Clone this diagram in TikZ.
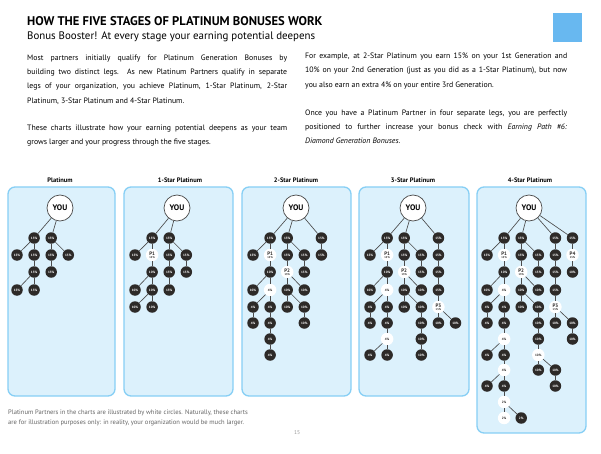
\documentclass[tikz,border=0pt]{standalone}
\usepackage{fontspec}
\setmainfont{PT Sans}
\setsansfont{PT Sans}
\definecolor{panelfill}{RGB}{220,241,252}
\definecolor{panelline}{RGB}{135,207,245}
\definecolor{dark}{RGB}{45,42,40}
\definecolor{edgec}{RGB}{75,75,75}
\definecolor{sq}{RGB}{104,184,240}
\definecolor{foot}{RGB}{100,100,100}
\newcommand\plab[2]{{\fontsize{5}{5}\selectfont P#1}\\#2}
\newcommand\pctnode[5]{%
  \pgfmathsetmacro\nx{\bx+17.1*#4}%
  \pgfmathsetmacro\ny{{208,238,255,272,290,307,323,339,355,370,386,402,418}[#3]}%
  \node[#1] (#2r#3c#4) at (\nx,\ny) {#5};}
\newcommand\tree[2]{\foreach \nR/\nC/\nS/\nL in {#2} {\pctnode{\nS}{#1}{\nR}{\nC}{\nL}}}
\newcommand\links[2]{\foreach \pa/\pb/\pc/\pd in {#2} {\draw[edge] (#1r\pa c\pb) -- (#1r\pc c\pd);}}
\newcommand\youlinks[2]{\foreach \pk in {#2} {\draw[edge] (#1you) -- (#1r1c\pk);}}
\begin{document}
\begin{tikzpicture}[x=1pt,y=-1pt,
  panel/.style={draw=panelline, fill=panelfill, line width=1.3pt, rounded corners=7pt},
  bk/.style={circle, fill=dark, text=white, inner sep=0pt, minimum size=11.5pt, font=\bfseries\fontsize{3.2}{3.5}\selectfont},
  wt/.style={circle, fill=white, text=dark, inner sep=0pt, minimum size=12.5pt, font=\bfseries\fontsize{3.2}{3.5}\selectfont},
  pp/.style={circle, fill=white, text=dark, inner sep=0pt, minimum size=12.5pt, align=center, font=\bfseries\fontsize{2.7}{3.4}\selectfont},
  you/.style={circle, draw=edgec, line width=0.7pt, fill=white, minimum size=26pt, inner sep=0pt, font=\bfseries\fontsize{8}{9}\selectfont},
  edge/.style={draw=edgec, line width=0.65pt},
  body/.style={anchor=base west, inner sep=0pt, font=\fontsize{7.8}{9}\selectfont},
  ptitle/.style={anchor=base, inner sep=0pt, font=\bfseries\fontsize{6.5}{7}\selectfont},
  foottext/.style={anchor=base west, inner sep=0pt, text=foot, font=\fontsize{6.55}{7}\selectfont},
]
\useasboundingbox[fill=white] (0,0) rectangle (601,454);

% header
\node[anchor=base west, inner sep=0pt, font=\bfseries\fontsize{12.6}{14}\selectfont] (head) at (27,26) {HOW THE FIVE STAGES OF PLATINUM BONUSES WORK};
\node[anchor=base west, inner sep=0pt, font=\fontsize{10.9}{12}\selectfont] (sub) at (27,40) {Bonus Booster! At every stage your earning potential deepens};
\node[fill=sq, minimum width=29pt, minimum height=29pt, inner sep=0pt, anchor=north west] (square) at (553,13) {};

% left column
\node[body] (L1) at (27,60.5) {\makebox[260pt][s]{Most partners initially qualify for Platinum Generation Bonuses by}};
\node[body] (L2) at (27,74.8) {\makebox[260pt][s]{building two distinct legs. As new Platinum Partners qualify in separate}};
\node[body] (L3) at (27,89) {\makebox[260pt][s]{legs of your organization, you achieve Platinum, 1-Star Platinum, 2-Star}};
\node[body] (L4) at (27,103.2) {Platinum, 3-Star Platinum and 4-Star Platinum.};
\node[body] (L5) at (27,130.5) {\makebox[260pt][s]{These charts illustrate how your earning potential deepens as your team}};
\node[body] (L6) at (27,144.8) {grows larger and your progress through the five stages.};

% right column
\node[body] (R1) at (305,58.7) {\makebox[262pt][s]{For example, at 2-Star Platinum you earn 15\% on your 1st Generation and}};
\node[body] (R2) at (305,72.9) {\makebox[262pt][s]{10\% on your 2nd Generation (just as you did as a 1-Star Platinum), but now}};
\node[body] (R3) at (305,87.1) {you also earn an extra 4\% on your entire 3rd Generation.};
\node[body] (R4) at (305,115.3) {\makebox[262pt][s]{Once you have a Platinum Partner in four separate legs, you are perfectly}};
\node[body] (R5) at (305,129.4) {\makebox[262pt][s]{positioned to further increase your bonus check with \textit{Earning Path \#6:}}};
\node[body] (R6) at (305,143.5) {\textit{Diamond Generation Bonuses}.};

% panels
\draw[panel] (8,187) rectangle (115,396);
\draw[panel] (124,187) rectangle (233,396);
\draw[panel] (242,187) rectangle (351,396);
\draw[panel] (359,187) rectangle (469,396);
\draw[panel] (477,187) rectangle (586,433);

\node[ptitle] (tA) at (60,182.5) {Platinum};
\node[ptitle] (tB) at (180,182.5) {1-Star Platinum};
\node[ptitle] (tC) at (296,182.5) {2-Star Platinum};
\node[ptitle] (tD) at (413,182.5) {3-Star Platinum};
\node[ptitle] (tE) at (530,182.5) {4-Star Platinum};

% Panel A
\def\bx{17}
\node[you] (Ayou) at (60,208) {YOU};
\tree{A}{1/1/bk/15\%, 1/2/bk/15\%, 2/0/bk/15\%, 2/1/bk/15\%, 2/2/bk/15\%, 2/3/bk/15\%, 3/1/bk/15\%, 3/2/bk/15\%, 4/0/bk/15\%, 4/1/bk/15\%}
\youlinks{A}{1,2}
\links{A}{1/1/2/0, 1/1/2/1, 1/2/2/2, 1/2/2/3, 2/1/3/1, 2/2/3/2, 3/1/4/0, 3/1/4/1}

% Panel B
\def\bx{135}
\node[you] (Byou) at (177,208) {YOU};
\tree{B}{1/1/bk/15\%, 1/2/bk/15\%, 2/0/bk/15\%, 2/1/pp/\plab{1}{15\%}, 2/2/bk/15\%, 2/3/bk/15\%, 3/1/bk/10\%, 3/2/bk/15\%, 3/3/bk/15\%, 4/0/bk/10\%, 4/1/bk/10\%, 4/2/bk/15\%, 5/0/bk/10\%, 5/1/bk/10\%}
\youlinks{B}{1,2}
\links{B}{1/1/2/0, 1/1/2/1, 1/2/2/2, 1/2/2/3, 2/1/3/1, 2/2/3/2, 2/3/3/3, 3/1/4/0, 3/1/4/1, 3/2/4/2, 4/1/5/0, 4/1/5/1}

% Panel C
\def\bx{253}
\node[you] (Cyou) at (296,208) {YOU};
\tree{C}{1/1/bk/15\%, 1/2/bk/15\%, 1/4/bk/15\%,
 2/0/bk/15\%, 2/1/pp/\plab{1}{15\%}, 2/2/bk/15\%, 2/3/bk/15\%, 2/4/bk/15\%,
 3/1/bk/10\%, 3/2/pp/\plab{2}{15\%}, 3/3/bk/15\%,
 4/0/bk/10\%, 4/1/wt/4\%, 4/2/bk/10\%, 4/3/bk/10\%,
 5/0/bk/4\%, 5/1/bk/4\%, 5/2/bk/10\%, 5/3/bk/10\%,
 6/0/bk/4\%, 6/1/bk/4\%, 6/3/bk/10\%,
 7/1/bk/4\%, 8/1/bk/4\%}
\youlinks{C}{1,2,4}
\links{C}{1/1/2/0, 1/1/2/1, 1/2/2/2, 1/2/2/3, 1/4/2/4, 2/1/3/1, 2/2/3/2, 2/3/3/3, 3/1/4/0, 3/1/4/1, 3/2/4/2, 3/2/4/3, 4/1/5/0, 4/1/5/1, 4/2/5/2, 4/2/5/3, 5/0/6/0, 5/1/6/1, 5/3/6/3, 6/1/7/1, 7/1/8/1}

% Panel D
\def\bx{370}
\node[you] (Dyou) at (413,208) {YOU};
\tree{D}{1/1/bk/15\%, 1/2/bk/15\%, 1/4/bk/15\%,
 2/0/bk/15\%, 2/1/pp/\plab{1}{15\%}, 2/2/bk/15\%, 2/3/bk/15\%, 2/4/bk/15\%,
 3/1/bk/10\%, 3/2/pp/\plab{2}{15\%}, 3/3/bk/15\%, 3/4/bk/15\%,
 4/0/bk/10\%, 4/1/wt/4\%, 4/2/bk/10\%, 4/3/bk/10\%, 4/4/bk/15\%,
 5/0/bk/4\%, 5/1/bk/4\%, 5/2/bk/10\%, 5/3/bk/10\%, 5/4/pp/\plab{3}{15\%},
 6/0/bk/4\%, 6/1/bk/4\%, 6/3/bk/10\%, 6/4/bk/10\%, 6/5/bk/10\%,
 7/1/wt/4\%, 7/3/bk/10\%,
 8/0/bk/4\%, 8/1/bk/4\%, 8/3/bk/10\%}
\youlinks{D}{1,2,4}
\links{D}{1/1/2/0, 1/1/2/1, 1/2/2/2, 1/2/2/3, 1/4/2/4, 2/1/3/1, 2/2/3/2, 2/3/3/3, 2/4/3/4, 3/1/4/0, 3/1/4/1, 3/2/4/2, 3/2/4/3, 3/4/4/4, 4/1/5/0, 4/1/5/1, 4/2/5/2, 4/2/5/3, 4/4/5/4, 5/0/6/0, 5/1/6/1, 5/3/6/3, 5/4/6/4, 5/4/6/5, 6/1/7/1, 6/3/7/3, 7/1/8/0, 7/1/8/1, 7/3/8/3}

% Panel E
\def\bx{487}
\node[you] (Eyou) at (529,208) {YOU};
\tree{E}{1/1/bk/15\%, 1/2/bk/15\%, 1/4/bk/15\%, 1/5/bk/15\%,
 2/0/bk/15\%, 2/1/pp/\plab{1}{15\%}, 2/2/bk/15\%, 2/3/bk/15\%, 2/4/bk/15\%, 2/5/pp/\plab{4}{15\%},
 3/1/bk/10\%, 3/2/pp/\plab{2}{15\%}, 3/3/bk/15\%, 3/4/bk/15\%, 3/5/bk/10\%,
 4/0/bk/10\%, 4/1/wt/4\%, 4/2/bk/10\%, 4/3/bk/10\%, 4/4/bk/15\%,
 5/0/bk/4\%, 5/1/bk/4\%, 5/2/bk/10\%, 5/3/bk/10\%, 5/4/pp/\plab{3}{15\%},
 6/0/bk/4\%, 6/1/bk/4\%, 6/3/bk/10\%, 6/4/bk/10\%, 6/5/bk/10\%,
 7/1/wt/4\%, 7/3/bk/10\%, 7/5/bk/10\%,
 8/0/bk/4\%, 8/1/bk/4\%, 8/3/wt/10\%,
 9/1/wt/4\%, 9/3/bk/10\%, 9/4/bk/10\%,
 10/0/bk/4\%, 10/1/bk/4\%, 10/4/bk/10\%,
 11/1/wt/2\%, 12/1/wt/2\%, 12/2/bk/2\%}
\youlinks{E}{1,2,4,5}
\links{E}{1/1/2/0, 1/1/2/1, 1/2/2/2, 1/2/2/3, 1/4/2/4, 1/5/2/5, 2/1/3/1, 2/2/3/2, 2/3/3/3, 2/4/3/4, 2/5/3/5, 3/1/4/0, 3/1/4/1, 3/2/4/2, 3/2/4/3, 3/4/4/4, 4/1/5/0, 4/1/5/1, 4/2/5/2, 4/2/5/3, 4/4/5/4, 5/0/6/0, 5/1/6/1, 5/3/6/3, 5/4/6/4, 5/4/6/5, 6/1/7/1, 6/3/7/3, 6/5/7/5, 7/1/8/0, 7/1/8/1, 7/3/8/3, 8/1/9/1, 8/3/9/3, 8/3/9/4, 9/1/10/0, 9/1/10/1, 9/4/10/4, 10/1/11/1, 11/1/12/1, 11/1/12/2}

% footnote
\node[foottext] (F1) at (8,414.5) {Platinum Partners in the charts are illustrated by white circles. Naturally, these charts};
\node[foottext] (F2) at (8,424) {are for illustration purposes only: in reality, your organization would be much larger.};
\node[anchor=base, inner sep=0pt, text=black!40, font=\fontsize{5.5}{6}\selectfont] (page) at (297,434) {15};
\end{tikzpicture}
\end{document}
